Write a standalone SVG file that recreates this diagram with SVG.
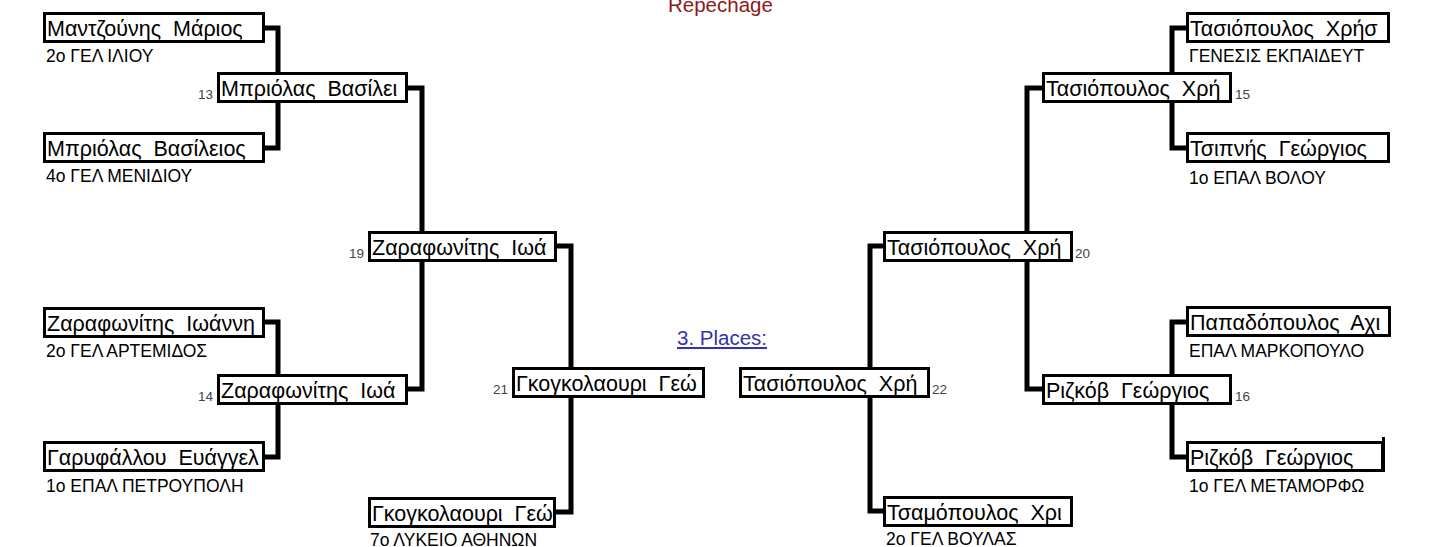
<svg xmlns="http://www.w3.org/2000/svg" width="1448" height="547" viewBox="0 0 1448 547">
<style>
.bx{fill:#fff;stroke:#000;stroke-width:3}
.nm{font-family:"Liberation Sans",Arial,sans-serif;font-size:21.5px;fill:#000;white-space:pre}
.sub{font-family:"Liberation Sans",Arial,sans-serif;font-size:17.5px;fill:#000}
.num{font-family:"Liberation Sans",Arial,sans-serif;font-size:13.5px;fill:#444}
.cn{fill:none;stroke:#000;stroke-width:5;stroke-linejoin:miter}
</style>
<rect width="1448" height="547" fill="#fff"/>
<text x="668" y="12" font-family="Liberation Sans, Arial, sans-serif" font-size="20.5" fill="#8b1a1a">Repechage</text>
<text x="677" y="345" font-family="Liberation Sans, Arial, sans-serif" font-size="20.5" fill="#3333aa" text-decoration="underline">3. Places:</text>
<g id="connectors">
<path class="cn" d="M264,28 H278 V148 H264"/>
<path class="cn" d="M264,322 H278 V457 H264"/>
<path class="cn" d="M408,88 H422 V389 H408"/>
<path class="cn" d="M557,246 H571 V512 H555"/>
<path class="cn" d="M1186,28 H1172 V148 H1186"/>
<path class="cn" d="M1186,322 H1172 V457 H1186"/>
<path class="cn" d="M1042,88 H1027 V389 H1042"/>
<path class="cn" d="M883,246 H870 V511 H883"/>
</g>
<g id="n1"><rect class="bx" x="44.5" y="13.5" width="219" height="28"/><text class="nm" x="47" y="36">Μαντζούνης  Μάριος</text><text class="sub" x="46" y="62">2ο ΓΕΛ ΙΛΙΟΥ</text></g>
<g id="n2"><rect class="bx" x="44.5" y="133.5" width="219" height="28"/><text class="nm" x="47" y="156">Μπριόλας  Βασίλειος</text><text class="sub" x="46" y="182">4ο ΓΕΛ ΜΕΝΙΔΙΟΥ</text></g>
<g id="n3"><rect class="bx" x="44.5" y="308.5" width="219" height="28"/><text class="nm" x="47" y="331">Ζαραφωνίτης  Ιωάννη</text><text class="sub" x="46" y="357">2ο ΓΕΛ ΑΡΤΕΜΙΔΟΣ</text></g>
<g id="n4"><rect class="bx" x="44.5" y="442.5" width="219" height="28"/><text class="nm" x="47" y="465">Γαρυφάλλου  Ευάγγελ</text><text class="sub" x="46" y="492">1ο ΕΠΑΛ ΠΕΤΡΟΥΠΟΛΗ</text></g>
<g id="n13"><rect class="bx" x="218.5" y="73.5" width="188" height="28"/><text class="nm" x="221" y="96">Μπριόλας  Βασίλει</text><text class="num" x="198" y="99">13</text></g>
<g id="n14"><rect class="bx" x="218.5" y="375.5" width="188" height="28"/><text class="nm" x="221" y="398">Ζαραφωνίτης  Ιωά</text><text class="num" x="198" y="401">14</text></g>
<g id="n19"><rect class="bx" x="369.5" y="232.5" width="186" height="28"/><text class="nm" x="372" y="255">Ζαραφωνίτης  Ιωά</text><text class="num" x="349" y="258">19</text></g>
<g id="n21"><rect class="bx" x="513.5" y="368.5" width="190" height="28"/><text class="nm" x="516" y="391">Γκογκολαουρι  Γεώ</text><text class="num" x="493" y="394">21</text></g>
<g id="n5"><rect class="bx" x="369.5" y="498.5" width="185" height="28"/><text class="nm" x="372" y="521">Γκογκολαουρι  Γεώ</text><text class="sub" x="370" y="546">7ο ΛΥΚΕΙΟ ΑΘΗΝΩΝ</text></g>
<g id="n6"><rect class="bx" x="1187.5" y="13.5" width="201" height="28"/><text class="nm" x="1190" y="36">Τασιόπουλος  Χρήσ</text><text class="sub" x="1189" y="62">ΓΕΝΕΣΙΣ ΕΚΠΑΙΔΕΥΤ</text></g>
<g id="n7"><rect class="bx" x="1187.5" y="133.5" width="201" height="28"/><text class="nm" x="1190" y="156">Τσιπνής  Γεώργιος</text><text class="sub" x="1189" y="184">1ο ΕΠΑΛ ΒΟΛΟΥ</text></g>
<g id="n8"><rect class="bx" x="1187.5" y="307.5" width="202" height="28"/><text class="nm" x="1190" y="330">Παπαδόπουλος  Αχι</text><text class="sub" x="1189" y="357">ΕΠΑΛ ΜΑΡΚΟΠΟΥΛΟ</text></g>
<g id="n9"><rect class="bx" x="1187.5" y="442.5" width="195" height="28"/><line x1="1383.5" y1="437" x2="1383.5" y2="472" stroke="#000" stroke-width="3"/><text class="nm" x="1190" y="465">Ριζκόβ  Γεώργιος</text><text class="sub" x="1189" y="492">1ο ΓΕΛ ΜΕΤΑΜΟΡΦΩ</text></g>
<g id="n15"><rect class="bx" x="1043.5" y="73.5" width="187" height="28"/><text class="nm" x="1046" y="96">Τασιόπουλος  Χρή</text><text class="num" x="1235" y="99">15</text></g>
<g id="n16"><rect class="bx" x="1043.5" y="375.5" width="187" height="28"/><text class="nm" x="1046" y="398">Ριζκόβ  Γεώργιος</text><text class="num" x="1235" y="401">16</text></g>
<g id="n20"><rect class="bx" x="884.5" y="232.5" width="187" height="28"/><text class="nm" x="887" y="255">Τασιόπουλος  Χρή</text><text class="num" x="1075" y="258">20</text></g>
<g id="n22"><rect class="bx" x="740.5" y="368.5" width="188" height="28"/><text class="nm" x="743" y="391">Τασιόπουλος  Χρή</text><text class="num" x="932" y="394">22</text></g>
<g id="n10"><rect class="bx" x="884.5" y="497.5" width="187" height="28"/><text class="nm" x="887" y="520">Τσαμόπουλος  Χρι</text><text class="sub" x="886" y="545">2ο ΓΕΛ ΒΟΥΛΑΣ</text></g>
</svg>
